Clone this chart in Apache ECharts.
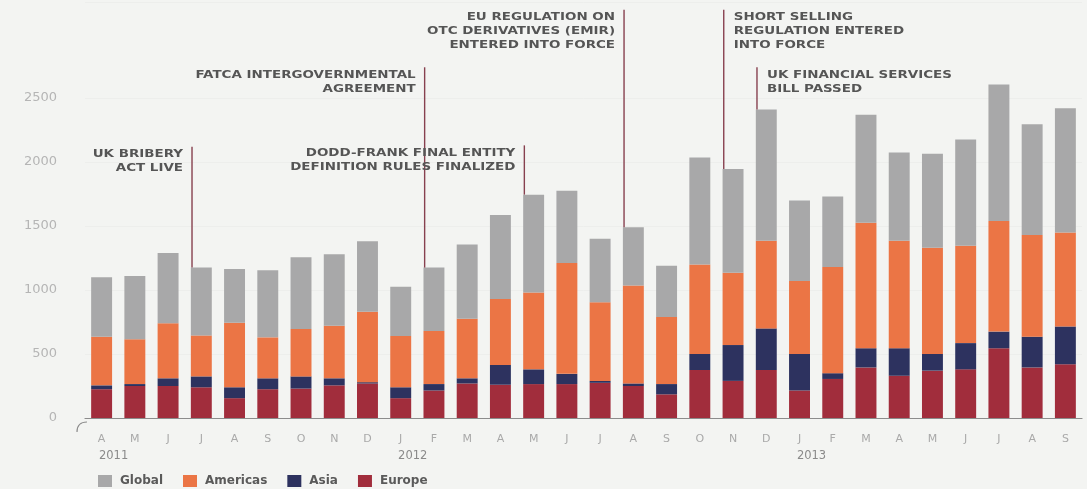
<!DOCTYPE html>
<html>
<head>
<meta charset="utf-8">
<script src="https://cdn.jsdelivr.net/npm/echarts@6/dist/echarts.min.js"></script>
<style>
  html, body { margin: 0; padding: 0; background: #f3f4f2; }
  #chart { width: 1087px; height: 489px; }
</style>
</head>
<body>
<div id="chart"></div>
<script>
// Monthly counts, April 2011 – September 2013
const months = ['A','M','J','J','A','S','O','N','D',
                'J','F','M','A','M','J','J','A','S','O','N','D',
                'J','F','M','A','M','J','J','A','S'];
const yearStarts = { 0: '2011', 9: '2012', 21: '2013' };

const europe   = [225,250,250,240,155,225,230,255,270,155,215,270,260,265,265,275,250,185,375,290,375,215,305,395,330,370,380,545,395,420];
const asia     = [30,15,60,85,85,85,95,55,10,85,50,40,155,115,80,15,20,80,125,280,325,285,45,150,215,130,205,130,240,295];
const americas = [380,350,430,320,505,320,370,410,550,400,415,465,515,600,865,615,765,525,700,565,685,570,830,980,840,830,760,865,795,735];
const global   = [465,495,550,530,420,525,560,560,550,385,495,580,655,765,565,495,455,400,835,810,1025,630,550,845,690,735,830,1065,865,970];

const yTicks = [0, 500, 1000, 1500, 2000, 2500];

// Regulatory events: month index, height the marker line reaches, label, side
const eventIndex = [3, 10, 13, 16, 19, 20];
const eventTop   = [2120, 2740, 2130, 3190, 3190, 2740];
const eventText  = [
  'UK BRIBERY\nACT LIVE',
  'FATCA INTERGOVERNMENTAL\nAGREEMENT',
  'DODD-FRANK FINAL ENTITY\nDEFINITION RULES FINALIZED',
  'EU REGULATION ON\nOTC DERIVATIVES (EMIR)\nENTERED INTO FORCE',
  'SHORT SELLING\nREGULATION ENTERED\nINTO FORCE',
  'UK FINANCIAL SERVICES\nBILL PASSED'
];
const eventSide  = ['left', 'left', 'left', 'left', 'right', 'right'];

const colors = { Global: '#a8a8a9', Americas: '#eb7545', Asia: '#2d325f', Europe: '#a12d3c' };

const totals = months.map((_, i) => europe[i] + asia[i] + americas[i] + global[i]);

const chart = echarts.init(document.getElementById('chart'), null, { renderer: 'canvas' });

function barSeries(name, data) {
  return {
    name, type: 'bar', stack: 'total', data,
    barCategoryGap: '37%',
    itemStyle: { color: colors[name] },
    emphasis: { disabled: true }
  };
}

const eventData = eventIndex.map((idx, k) => [idx, eventTop[k], totals[idx]]);

const option = {
  backgroundColor: '#f3f4f2',
  animation: false,
  grid: { left: 85, right: 5, top: 2, bottom: 71 },
  legend: {
    data: ['Global', 'Americas', 'Asia', 'Europe'],
    left: 93, top: 470,
    icon: 'rect', itemWidth: 14, itemHeight: 12, itemGap: 20,
    textStyle: { fontFamily: 'DejaVu Sans', fontWeight: 'bold', fontSize: 12, color: '#5a5a5a', padding: [0, 0, 0, 3] }
  },
  xAxis: {
    type: 'category',
    data: months,
    offset: 4,
    axisLine: { lineStyle: { color: '#8c8c8c', width: 1.2 } },
    axisTick: { alignWithLabel: true, length: 4, lineStyle: { color: '#999' } },
    axisLabel: {
      interval: 0, margin: 9,
      formatter: (v, i) => yearStarts[i] ? `{m|${v}}\n{y|${yearStarts[i]}}` : `{m|${v}}`,
      rich: {
        m: { fontFamily: 'DejaVu Sans', fontSize: 11, color: '#a9a9a9', lineHeight: 16 },
        y: { fontFamily: 'DejaVu Sans', fontSize: 11.5, color: '#8a8a8a', lineHeight: 18, padding: [0, 0, 0, 24] }
      }
    }
  },
  yAxis: {
    type: 'value', min: 0, max: 3250, interval: 500,
    axisLine: { show: false }, axisTick: { show: false },
    splitLine: { show: true, lineStyle: { color: ['#edeeec','#edeeec','#edeeec','#edeeec','#edeeec','#edeeec','rgba(0,0,0,0)'] } },
    axisLabel: {
      margin: 28,
      formatter: v => yTicks.includes(v) ? String(v) : '',
      fontFamily: 'DejaVu Sans', fontSize: 13, color: '#b5b5b5'
    }
  },
  graphic: [{
    type: 'bezierCurve',
    shape: { x1: 77, y1: 432, cpx1: 77, cpy1: 422, x2: 87, y2: 422 },
    style: { stroke: '#8c8c8c', lineWidth: 1.2, fill: null }
  }],
  series: [
    barSeries('Europe', europe),
    barSeries('Asia', asia),
    barSeries('Americas', americas),
    barSeries('Global', global),
    {
      type: 'custom',
      name: 'events',
      z: 10,
      data: eventData,
      renderItem(params, api) {
        const k = params.dataIndex;
        const band = api.size([1, 0])[0];
        const top = api.coord([api.value(0), api.value(1)]);
        const bottom = api.coord([api.value(0), api.value(2)]);
        const x = top[0] - band * 0.28;
        const left = eventSide[k] === 'left';
        return {
          type: 'group',
          children: [
            {
              type: 'line',
              shape: { x1: x, y1: top[1], x2: x, y2: bottom[1] },
              style: { stroke: '#87404f', lineWidth: 1.4 }
            },
            {
              type: 'text',
              x: left ? x - 9 : x + 10,
              y: top[1] + 1,
              scaleX: 1.28,
              style: {
                text: eventText[k],
                align: left ? 'right' : 'left',
                verticalAlign: 'top',
                fontFamily: 'DejaVu Sans',
                fontWeight: 'bold',
                fontSize: 10.5,
                lineHeight: 14,
                fill: '#555555'
              }
            }
          ]
        };
      }
    }
  ]
};

chart.setOption(option);
</script>
</body>
</html>
